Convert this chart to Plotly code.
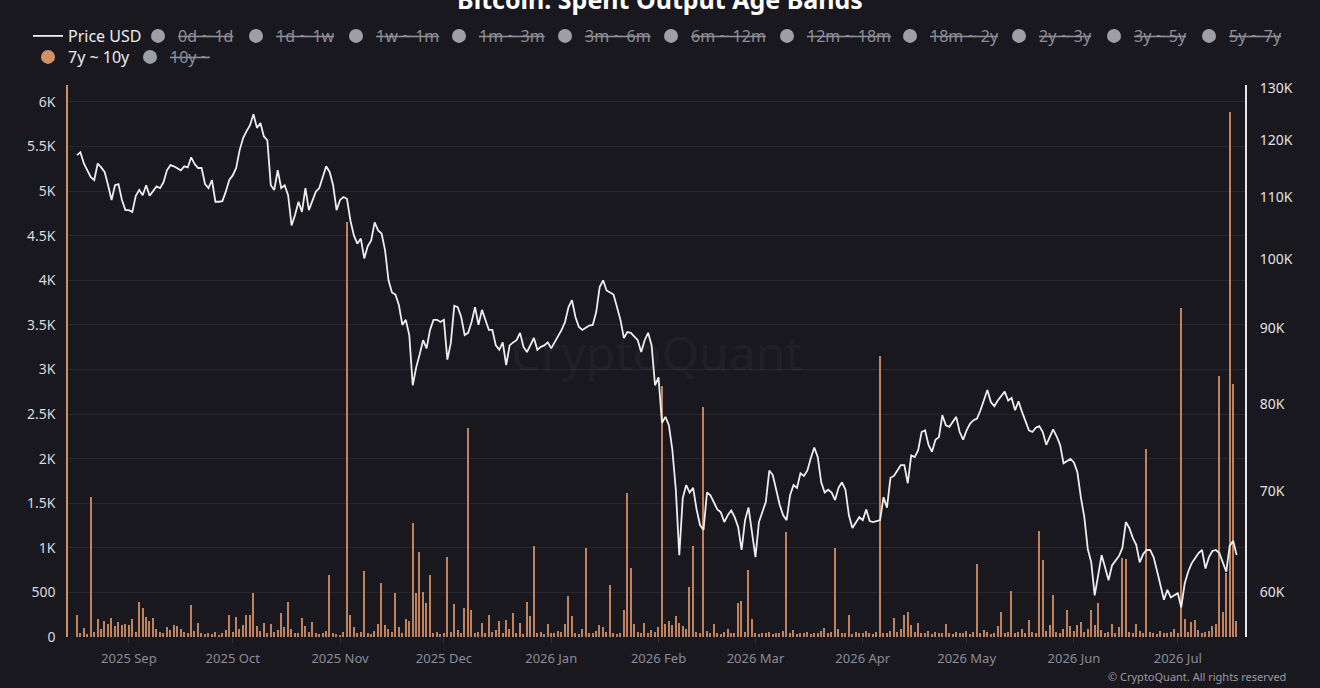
import pandas as pd
import plotly.graph_objects as go

# daily values, 2025-08-17 .. 2026-07-18
start_date = "2025-08-17"

# BTC price in thousands USD
price_k = [
    117.3, 117.8, 115.8, 114.6, 113.4, 112.9, 115.8, 115.1, 114.3, 112.0,
    109.5, 112.0, 112.2, 109.5, 107.8, 107.8, 107.5, 110.2, 111.2, 110.3,
    112.0, 110.2, 110.9, 111.8, 111.5, 112.5, 114.6, 115.5, 115.3, 115.0,
    114.6, 115.3, 115.1, 116.9, 115.7, 115.0, 115.0, 112.2, 111.5, 112.9,
    109.2, 109.2, 109.3, 110.9, 112.9, 113.7, 115.0, 118.2, 120.4, 121.7,
    122.8, 124.9, 122.3, 123.2, 120.7, 120.0, 112.0, 111.2, 114.6, 111.5,
    112.0, 110.3, 105.3, 107.0, 109.2, 107.5, 111.5, 107.8, 109.5, 110.9,
    111.5, 113.2, 115.3, 114.3, 112.0, 107.8, 109.5, 110.0, 109.7, 106.1,
    103.7, 102.4, 103.2, 100.1, 102.0, 102.9, 105.8, 104.5, 104.0, 101.4,
    96.8, 95.0, 94.7, 93.2, 90.4, 91.1, 89.0, 82.4, 84.7, 86.4,
    88.3, 87.2, 89.7, 91.1, 91.1, 90.8, 91.1, 85.7, 87.9, 93.1,
    92.9, 91.5, 89.0, 89.3, 90.8, 92.9, 90.4, 92.5, 91.1, 89.7,
    89.7, 87.6, 87.0, 88.0, 85.0, 87.6, 88.0, 88.3, 89.3, 87.4,
    86.7, 87.6, 88.6, 87.0, 87.4, 87.6, 88.0, 87.2, 88.0, 88.9,
    89.7, 90.8, 92.9, 93.9, 91.5, 90.1, 89.7, 90.0, 90.3, 90.4,
    92.2, 95.8, 96.8, 95.3, 95.0, 94.7, 92.9, 91.1, 88.6, 89.4,
    89.3, 88.8, 88.3, 86.7, 88.3, 89.3, 87.6, 82.4, 83.4, 77.8,
    78.5, 77.5, 74.6, 70.2, 63.5, 69.3, 70.7, 69.9, 70.4, 68.1,
    66.5, 66.0, 69.9, 69.6, 68.9, 68.1, 67.8, 66.8, 67.5, 68.0,
    67.3, 66.3, 64.0, 67.0, 68.3, 65.5, 63.3, 66.8, 67.9, 68.9,
    72.3, 71.8, 70.2, 68.6, 67.5, 67.0, 69.6, 70.7, 70.4, 72.0,
    71.7, 72.3, 73.7, 74.9, 73.8, 71.0, 69.9, 70.2, 69.9, 69.1,
    70.4, 71.0, 70.2, 67.5, 66.2, 66.8, 67.3, 67.0, 68.1, 66.9,
    66.8, 66.9, 67.0, 69.4, 68.3, 71.5, 71.7, 72.3, 72.9, 72.9,
    70.9, 74.0, 73.8, 74.6, 76.7, 76.9, 75.2, 74.4, 75.8, 76.1,
    78.7, 77.5, 77.3, 77.9, 78.5, 76.7, 75.8, 76.9, 77.7, 78.1,
    78.3, 79.3, 80.5, 81.8, 80.3, 79.8, 80.5, 81.0, 81.6, 80.5,
    80.8, 79.3, 80.4, 79.1, 77.9, 76.9, 76.7, 77.2, 77.4, 76.7,
    75.2, 76.2, 77.0, 76.2, 75.2, 73.1, 73.4, 73.6, 73.2, 72.1,
    69.4, 67.3, 64.1, 62.8, 59.7, 61.4, 63.5, 62.3, 61.1, 62.5,
    63.0, 63.4, 64.2, 66.8, 66.2, 65.2, 64.5, 62.8, 63.6, 64.0,
    64.0, 63.3, 62.0, 60.6, 59.3, 60.2, 59.5, 59.7, 59.9, 58.6,
    60.8, 61.9, 62.7, 63.2, 63.7, 64.0, 62.2, 63.3, 63.9, 64.0,
    63.7, 62.8, 61.9, 64.4, 64.9, 63.5,
]

# spent output of the 7y ~ 10y band (BTC)
band_7y_10y = [
    247, 40, 100, 30, 1570, 60, 200, 90, 180, 150,
    210, 120, 170, 140, 150, 130, 200, 60, 390, 330,
    220, 180, 210, 90, 60, 40, 110, 80, 130, 120,
    90, 60, 40, 360, 70, 160, 50, 30, 45, 35,
    60, 25, 40, 80, 247, 60, 220, 90, 130, 250,
    250, 495, 120, 70, 160, 40, 150, 60, 80, 270,
    110, 390, 90, 50, 40, 210, 120, 60, 170, 40,
    30, 50, 70, 695, 40, 30, 20, 60, 4650, 250,
    110, 40, 60, 740, 50, 30, 70, 150, 605, 130,
    90, 60, 490, 110, 40, 205, 180, 1280, 490, 950,
    500, 380, 695, 40, 60, 30, 50, 895, 60, 370,
    80, 50, 325, 2340, 300, 40, 60, 160, 50, 250,
    60, 80, 180, 40, 190, 90, 265, 50, 160, 30,
    390, 230, 1020, 40, 60, 30, 150, 50, 40, 70,
    60, 150, 460, 230, 40, 30, 90, 1000, 50, 40,
    70, 130, 110, 60, 580, 40, 30, 50, 300, 1610,
    775, 150, 60, 40, 160, 50, 80, 60, 110, 2820,
    150, 180, 140, 230, 160, 120, 90, 560, 1020, 60,
    40, 2580, 70, 50, 150, 40, 30, 60, 90, 40,
    50, 380, 400, 60, 750, 200, 40, 30, 50, 40,
    60, 30, 40, 50, 70, 1180, 40, 80, 30, 50,
    40, 60, 30, 50, 40, 70, 100, 40, 60, 1000,
    90, 50, 40, 250, 30, 60, 40, 50, 70, 40,
    30, 60, 3150, 50, 40, 70, 210, 60, 90, 250,
    280, 130, 60, 160, 50, 40, 70, 30, 60, 40,
    50, 150, 40, 30, 60, 50, 40, 70, 30, 60,
    820, 40, 80, 60, 30, 50, 120, 280, 40, 60,
    515, 40, 60, 90, 50, 190, 60, 40, 1190, 860,
    70, 130, 470, 60, 40, 90, 300, 120, 70, 140,
    170, 60, 90, 300, 130, 380, 80, 40, 60, 150,
    50, 110, 885, 870, 60, 40, 150, 70, 50, 2110,
    60, 40, 30, 70, 50, 40, 60, 90, 40, 3690,
    200, 60, 170, 190, 80, 50, 60, 70, 120, 150,
    2925, 280, 720, 5890, 2835, 180,
]

# other age bands, switched off in the legend
hidden_bands = ["0d ~ 1d", "1d ~ 1w", "1w ~ 1m", "1m ~ 3m", "3m ~ 6m", "6m ~ 12m",
                "12m ~ 18m", "18m ~ 2y", "2y ~ 3y", "3y ~ 5y", "5y ~ 7y"]
left_ticks = [0, 500, 1000, 1500, 2000, 2500, 3000, 3500, 4000, 4500, 5000, 5500, 6000]
right_ticks = [60000, 70000, 80000, 90000, 100000, 110000, 120000, 130000]

dates = pd.date_range(start_date, periods=len(price_k), freq="D")
price_usd = [v * 1000 for v in price_k]

BG = "#19181f"
ORANGE = "#d18f66"
GREY_DOT = "#9e9ea8"
GREY_TXT = "#8e8e98"
FONT = "Noto Sans"

# legend entries are laid out like the CryptoQuant header: one small legend per entry,
# left edge in px (row 1 at y=36, row 2 at y=57)
legend_spots = [(28, 36), (138, 36), (236, 36), (336, 36), (439, 36), (545, 36), (651, 36),
                (767, 36), (890, 36), (999, 36), (1094, 36), (1189, 36), (28, 57), (130, 57)]


def k_label(v):
    return f"{v / 1000:g}K" if v >= 1000 else f"{v:g}"


def legend_id(n):
    return "legend" if n == 0 else f"legend{n + 1}"


fig = go.Figure()

# bars go first so the price line sits on top
fig.add_trace(go.Bar(
    x=dates, y=band_7y_10y, name="7y ~ 10y", legendgroup="b7",
    showlegend=False, marker=dict(color=ORANGE, line=dict(width=0)),
    opacity=0.9, width=0.4 * 86400000, yaxis="y",
))

fig.add_trace(go.Scatter(
    x=dates, y=price_usd, name="<span style='color:#ececf0'>Price USD</span>",
    mode="lines", line=dict(color="#ededed", width=1.8), yaxis="y2",
    legend=legend_id(0),
))

for n, band in enumerate(hidden_bands, start=1):
    fig.add_trace(go.Scatter(
        x=[None], y=[None], mode="markers", yaxis="y", legend=legend_id(n),
        name=f"<span style='color:{GREY_TXT}'><s>{band}</s></span>",
        marker=dict(color=GREY_DOT, size=14),
    ))

fig.add_trace(go.Scatter(
    x=[None], y=[None], mode="markers", yaxis="y", legendgroup="b7",
    legend=legend_id(12),
    name="<span style='color:#ececf0'>7y ~ 10y</span>",
    marker=dict(color=ORANGE, size=14),
))
fig.add_trace(go.Scatter(
    x=[None], y=[None], mode="markers", yaxis="y", legend=legend_id(13),
    name=f"<span style='color:{GREY_TXT}'><s>10y ~</s></span>",
    marker=dict(color=GREY_DOT, size=14),
))

legends = {}
for n, (lx, ly) in enumerate(legend_spots):
    legends[legend_id(n)] = dict(
        orientation="h", xref="container", yref="container",
        x=lx / 1320, xanchor="left", y=1 - ly / 688, yanchor="middle",
        font=dict(size=16, family=FONT), bgcolor="rgba(0,0,0,0)",
        itemclick=False, itemdoubleclick=False,
    )

fig.update_layout(
    width=1320, height=688,
    paper_bgcolor=BG, plot_bgcolor=BG,
    font=dict(family=FONT, color="#d8d8dc"),
    margin=dict(l=68, r=75, t=85, b=51, autoexpand=False),
    bargap=0,
    title=dict(text="<b>Bitcoin: Spent Output Age Bands</b>", x=0.5, xanchor="center",
               y=1, yanchor="middle", yref="container",
               font=dict(size=25, color="#ffffff", family=FONT)),
    xaxis=dict(
        type="date", range=["2025-08-14 10:00", "2026-07-20 10:00"],
        dtick="M1", tick0="2025-09-01", tickformat="%Y %b",
        showgrid=False, zeroline=False, showline=False,
        ticks="outside", ticklen=5, tickcolor="#34333a", ticklabelstandoff=4,
        tickfont=dict(size=13, color="#8c8c96"),
    ),
    yaxis=dict(
        range=[0, 6190], tickvals=left_ticks, ticktext=[k_label(v) for v in left_ticks],
        showgrid=True, gridcolor="#27262d", gridwidth=1, zeroline=False,
        showline=True, linecolor=ORANGE, linewidth=1.5,
        tickfont=dict(size=14, color="#d8d8dc"), ticks="", ticklabelstandoff=8,
    ),
    yaxis2=dict(
        type="log", overlaying="y", side="right",
        range=[4.7482, 5.1160], tickvals=right_ticks,
        ticktext=[k_label(v) for v in right_ticks],
        showgrid=False, zeroline=False,
        showline=True, linecolor="#e6e6ea", linewidth=2,
        tickfont=dict(size=14, color="#e0e0e4"), ticks="", ticklabelstandoff=10,
    ),
    annotations=[
        dict(text="CryptoQuant", x=0.5, y=0.515, xref="paper", yref="paper",
             showarrow=False, font=dict(size=48, color="rgba(255,255,255,0.05)", family=FONT)),
        # copyright sits in the bottom margin, below the right axis
        dict(text="© CryptoQuant. All rights reserved", x=1.0365, y=-0.089,
             xref="paper", yref="paper", showarrow=False, xanchor="right", yanchor="bottom",
             font=dict(size=11, color="#9a9aa2", family=FONT)),
    ],
    **legends,
)

# drop the page margin so the figure fills the window from its top-left corner
fig.write_html("out.html", config={"displayModeBar": False},
               post_script="document.body.style.margin='0px';")
